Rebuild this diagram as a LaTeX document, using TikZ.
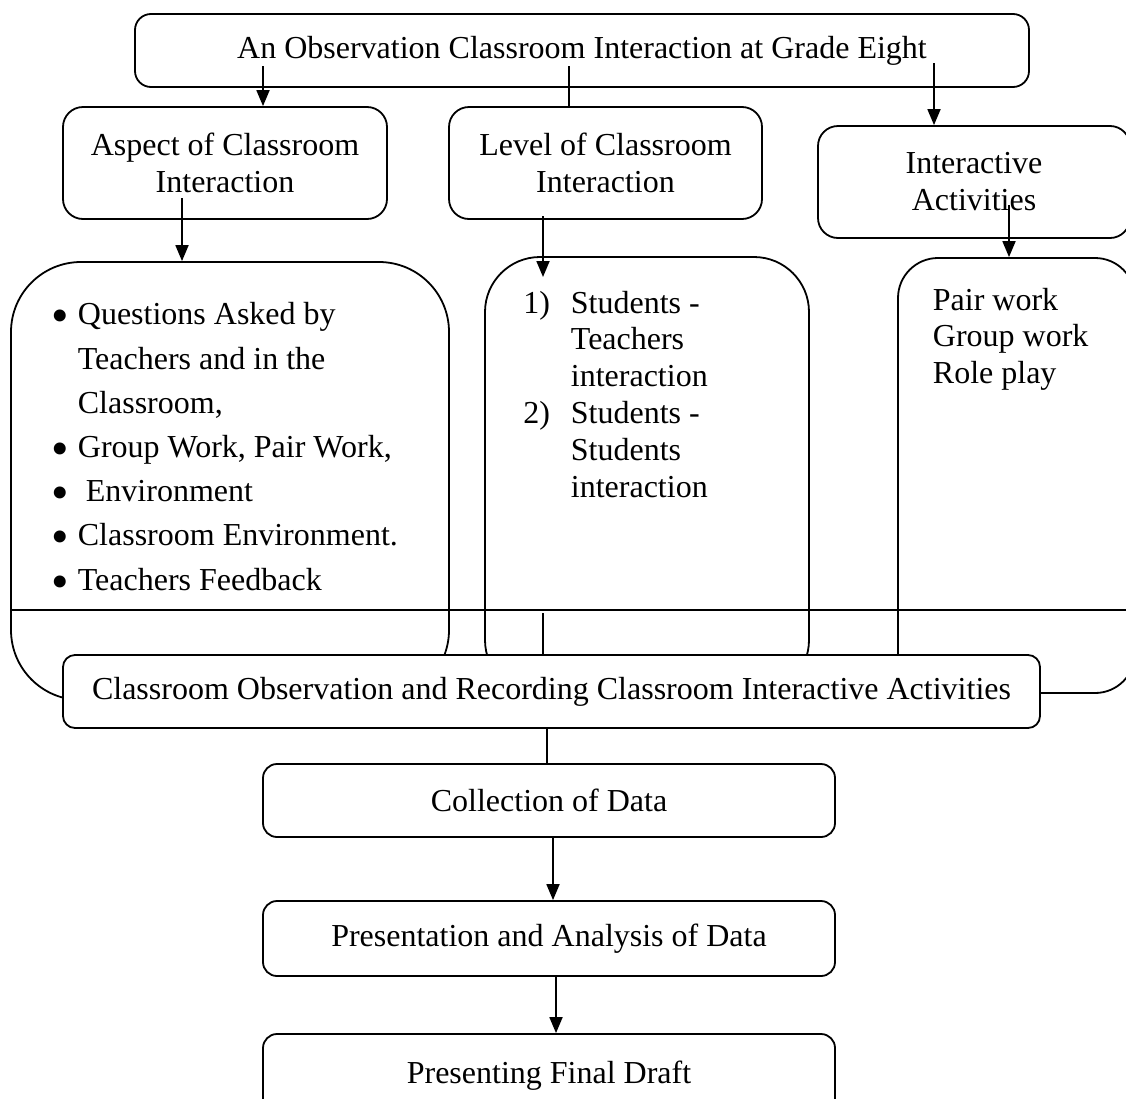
\documentclass[tikz,border=0pt]{standalone}
\usepackage{fontspec}
\setmainfont{Liberation Serif}
\usetikzlibrary{arrows.meta}
\newcommand\itemdot{\llap{\raisebox{-8pt}[0pt][0pt]{\fontsize{50}{50}\selectfont\textbullet}\hspace{9pt}}}
\begin{document}
\begin{tikzpicture}[x=1pt, y=-1pt, line width=1.8pt,
        every node/.style={font=\fontsize{32}{37}\selectfont, inner sep=0pt},
        cbox/.style={draw, rounded corners=#1, fill=white, align=center},
        cbox/.default=16pt,
        arr/.style={-{Triangle[width=13pt,length=16pt]}}]
            \useasboundingbox (0,0) rectangle (1126,1098);

            \node[cbox, minimum width=894pt, minimum height=73pt] (top) at (582,50.5) {An Observation Classroom Interaction at Grade Eight};
            \node[cbox=20pt, minimum width=324pt, minimum height=112pt] (aspect) at (225,163) {Aspect of Classroom\\Interaction};
            \node[cbox=20pt, minimum width=313pt, minimum height=112pt] (level) at (605.5,163) {Level of Classroom\\Interaction};
            \node[cbox=20pt, minimum width=312pt, minimum height=112pt] (inter) at (974,182) {Interactive\\Activities};

            % lists
            \node[cbox=70pt, minimum width=438pt, minimum height=438pt] (bullets) at (230,481) {};
            \node[cbox=55pt, minimum width=324pt, minimum height=438pt] (numbered) at (647,476) {};
            \node[cbox=40pt, minimum width=237pt, minimum height=435pt] (pair) at (1016.5,475.5) {};

            % base = last line
            \node[anchor=base west, align=left, font=\fontsize{32}{44.2}\selectfont] (qlist) at (77,590)
                {\itemdot Questions Asked by\\Teachers and in the\\Classroom,\\
                 \itemdot Group Work, Pair Work,\\
                 \itemdot\hspace{8pt}Environment\\
                 \itemdot Classroom Environment.\\
                 \itemdot Teachers Feedback};
            \node[anchor=base west, align=left, font=\fontsize{32}{36.8}\selectfont] (slist) at (570,497)
                {\llap{1)\hspace{21pt}}Students -\\Teachers\\interaction\\
                 \llap{2)\hspace{21pt}}Students -\\Students\\interaction};
            \node[anchor=base west, align=left, font=\fontsize{32}{36.5}\selectfont] (plist) at (932,383)
                {Pair work\\Group work\\Role play};

            \coordinate (t1) at (263,66);
            \coordinate (t2) at (569,66);
            \coordinate (t3) at (934,63);
            \coordinate (a1) at (182,198);
            \coordinate (l1) at (543,216);
            \coordinate (l2) at (543,277);
            \coordinate (i1) at (1009,205);
            \draw[arr] (t1) -- (t1 |- aspect.north);
            \draw (t2) -- (t2 |- level.north);
            \draw[arr] (t3) -- (t3 |- inter.north);
            \draw[arr] (a1) -- (a1 |- bullets.north);
            \draw[arr] (l1) -- (l2);
            \draw[arr] (i1) -- (i1 |- pair.north);

            \coordinate (hl) at (11,610);
            \coordinate (hr) at (1126,610);
            \draw (hl) -- (hr);

            \node[cbox=12pt, minimum width=977pt, minimum height=73pt] (obs) at (551.5,691.5) {Classroom Observation and Recording Classroom Interactive Activities};
            \coordinate (v1) at (543,613);
            \draw (v1) -- (v1 |- obs.north);

            \node[cbox=14pt, minimum width=572pt, minimum height=73pt] (coll) at (549,800.5) {Collection of Data};
            \node[cbox=14pt, minimum width=572pt, minimum height=75pt] (pres) at (549,938.5) {Presentation and Analysis of Data};
            \node[cbox=14pt, minimum width=572pt, minimum height=90pt, text depth=0pt] (final) at (549,1079) {\raisebox{14pt}{Presenting Final Draft}};

            \coordinate (o1) at (547,728);
            \coordinate (c1) at (553,837);
            \coordinate (p1) at (556,976);
            \draw (o1) -- (o1 |- coll.north);
            \draw[arr] (c1) -- (c1 |- pres.north);
            \draw[arr] (p1) -- (p1 |- final.north);
        \end{tikzpicture}
\end{document}
